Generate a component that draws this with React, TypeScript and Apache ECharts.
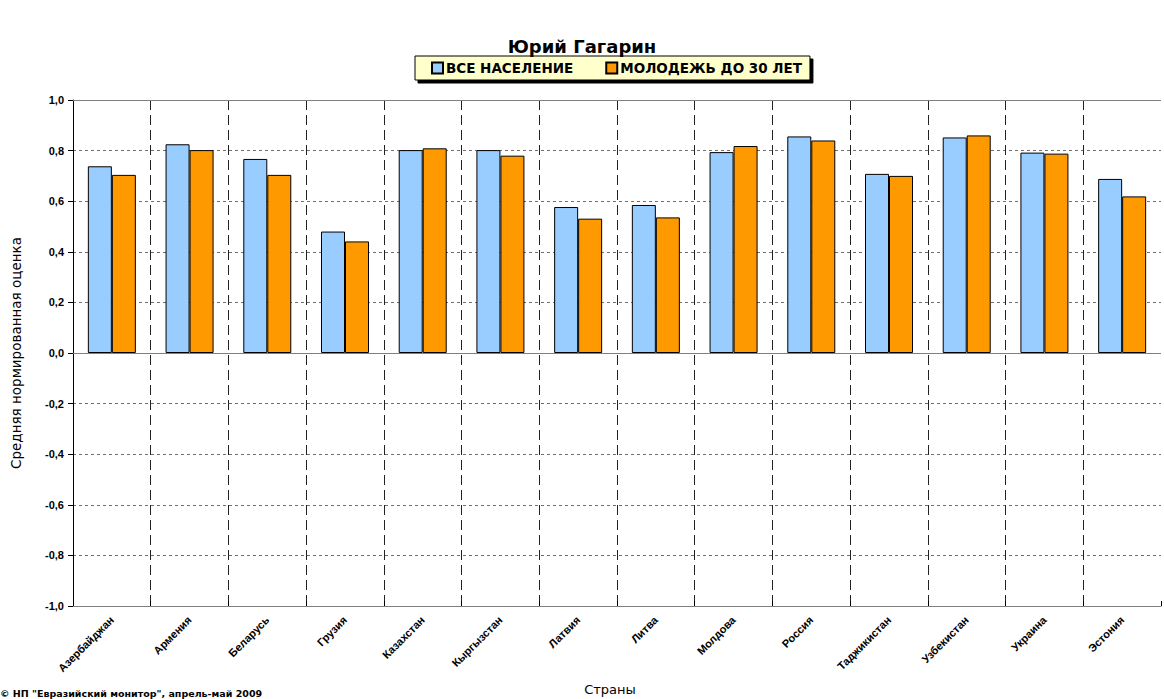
import React, { useEffect, useRef } from "react";
import * as echarts from "echarts";

const countries = [
  "Азербайджан", "Армения", "Беларусь", "Грузия", "Казахстан", "Кыргызстан", "Латвия",
  "Литва", "Молдова", "Россия", "Таджикистан", "Узбекистан", "Украина", "Эстония",
];
const allPopulation = [0.738, 0.825, 0.767, 0.48, 0.802, 0.802, 0.577, 0.585, 0.794, 0.856, 0.708, 0.852, 0.792, 0.688];
const youthUnder30 = [0.704, 0.802, 0.704, 0.441, 0.809, 0.78, 0.531, 0.536, 0.818, 0.84, 0.7, 0.86, 0.788, 0.619];
const seriesNames = ["ВСЕ НАСЕЛЕНИЕ", "МОЛОДЕЖЬ ДО 30 ЛЕТ"];
const titleText = "Юрий Гагарин";
const yAxisName = "Средняя нормированная оценка";
const xAxisName = "Страны";
const footnote = "© НП \"Евразийский монитор\", апрель-май 2009";

export default function App() {
  const ref = useRef<HTMLDivElement>(null);
  useEffect(() => {
    document.body.style.margin = "0";
    const chart = echarts.init(ref.current!, undefined, { renderer: "svg" });
    const font = "Arial, 'Liberation Sans', sans-serif";
    const wide = "'DejaVu Sans', Verdana, sans-serif";
    chart.setOption({
      animation: false,
      textStyle: { fontFamily: font },
      title: {
        text: titleText,
        left: "center",
        top: 37,
        padding: 0,
        textStyle: { fontSize: 18, fontWeight: "bold", color: "#000", fontFamily: wide },
      },
      legend: {
        left: 415,
        top: 56,
        backgroundColor: "#FFFFCC",
        borderColor: "#000",
        borderWidth: 1,
        shadowColor: "#000",
        shadowOffsetX: 3,
        shadowOffsetY: 3,
        shadowBlur: 0,
        padding: [5, 8, 5, 16],
        itemGap: 32,
        itemWidth: 11,
        itemHeight: 11,
        icon: "rect",
        textStyle: { fontSize: 13.5, fontWeight: "bold", color: "#000", fontFamily: wide, padding: [0, 0, 0, -2] },
        data: seriesNames,
      },
      grid: { left: 73, right: 3, top: 100, bottom: 93, containLabel: false },
      xAxis: {
        type: "category",
        data: countries,
        axisLine: { onZero: false, lineStyle: { color: "#808080", width: 1 } },
        axisTick: { show: true, inside: true, length: 5, lineStyle: { color: "#000" } },
        axisLabel: {
          rotate: 45,
          fontSize: 11,
          fontWeight: "bold",
          color: "#000",
          margin: 12,
          interval: 0,
        },
        splitLine: {
          show: true,
          showMaxLine: false,
          lineStyle: { color: "#222", type: [10, 5], width: 1 },
        },
      },
      yAxis: {
        type: "value",
        min: -1,
        max: 1,
        interval: 0.2,
        name: yAxisName,
        nameLocation: "middle",
        nameGap: 50,
        nameTextStyle: { fontSize: 13.5, color: "#000", fontFamily: wide },
        axisLine: { show: true, lineStyle: { color: "#000", width: 1 } },
        axisTick: { show: true, length: 5, lineStyle: { color: "#000" } },
        axisLabel: {
          fontSize: 11,
          fontWeight: "bold",
          color: "#000",
          margin: 9,
          formatter: (v: number) => v.toFixed(1).replace(".", ","),
        },
        splitLine: { show: true, lineStyle: { color: "#707070", type: [3, 3], width: 1 } },
      },
      series: [
        {
          name: seriesNames[0],
          type: "bar",
          data: allPopulation,
          barWidth: 24,
          barGap: "0%",
          itemStyle: { color: "#99CCFF", borderColor: "#000", borderWidth: 1 },
          markLine: {
            silent: true,
            symbol: "none",
            label: { show: false },
            lineStyle: { color: "#808080", type: "solid", width: 1 },
            data: [{ yAxis: 0 }, { yAxis: 1 }],
          },
        },
        {
          name: seriesNames[1],
          type: "bar",
          data: youthUnder30,
          barWidth: 24,
          barGap: "0%",
          itemStyle: { color: "#FF9900", borderColor: "#000", borderWidth: 1 },
        },
      ],
      graphic: [
        {
          type: "text",
          x: 610,
          y: 683,
          style: { text: xAxisName, fontSize: 13, fill: "#000", fontFamily: wide, textAlign: "center" },
        },
        {
          type: "text",
          x: 0,
          y: 688,
          style: { text: footnote, fontSize: 9.5, fontWeight: "bold", fill: "#000", fontFamily: wide },
        },
      ],
    });
    return () => chart.dispose();
  }, []);
  return <div ref={ref} style={{ width: 1164, height: 699 }} />;
}
